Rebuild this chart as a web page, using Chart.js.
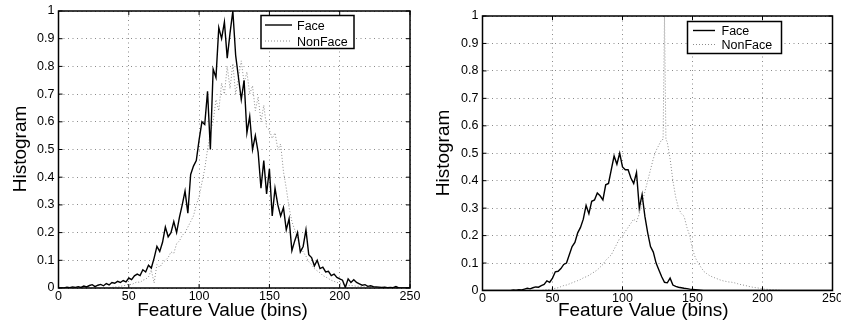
<!DOCTYPE html>
<html>
<head>
<meta charset="utf-8">
<script src="https://cdn.jsdelivr.net/npm/chart.js@4/dist/chart.umd.min.js"></script>
<style>
  html, body { margin: 0; padding: 0; background: #fff; }
  #wrap { position: relative; width: 841px; height: 324px; }
  canvas { position: absolute; top: 0; }
</style>
</head>
<body>
<div id="wrap">
  <canvas id="left" width="420" height="324" style="left:0"></canvas>
  <canvas id="right" width="421" height="324" style="left:420px"></canvas>
</div>
<script>
/* ---------- data ---------- */
const bins = [
  0, 2, 4, 6, 8, 10, 12, 14, 16, 18,
  20, 22, 24, 26, 28, 30, 32, 34, 36, 38,
  40, 42, 44, 46, 48, 50, 52, 54, 56, 58,
  60, 62, 64, 66, 68, 70, 72, 74, 76, 78,
  80, 82, 84, 86, 88, 90, 92, 94, 96, 98,
  100, 102, 104, 106, 108, 110, 112, 114, 116, 118,
  120, 122, 124, 126, 128, 130, 132, 134, 136, 138,
  140, 142, 144, 146, 148, 150, 152, 154, 156, 158,
  160, 162, 164, 166, 168, 170, 172, 174, 176, 178,
  180, 182, 184, 186, 188, 190, 192, 194, 196, 198,
  200, 202, 204, 206, 208, 210, 212, 214, 216, 218,
  220, 222, 224, 226, 228, 230, 232, 234, 236, 238,
  240, 242, 244, 246, 248, 250
];

// right NonFace has a one-bin spike at 130
const binsSpike = [
  0, 2, 4, 6, 8, 10, 12, 14, 16, 18,
  20, 22, 24, 26, 28, 30, 32, 34, 36, 38,
  40, 42, 44, 46, 48, 50, 52, 54, 56, 58,
  60, 62, 64, 66, 68, 70, 72, 74, 76, 78,
  80, 82, 84, 86, 88, 90, 92, 94, 96, 98,
  100, 102, 104, 106, 108, 110, 112, 114, 116, 118,
  120, 122, 124, 126, 128, 129, 130, 131, 132, 134, 136, 138,
  140, 142, 144, 146, 148, 150, 152, 154, 156, 158,
  160, 162, 164, 166, 168, 170, 172, 174, 176, 178,
  180, 182, 184, 186, 188, 190, 192, 194, 196, 198,
  200, 202, 204, 206, 208, 210, 212, 214, 216, 218,
  220, 222, 224, 226, 228, 230, 232, 234, 236, 238,
  240, 242, 244, 246, 248, 250
];

const leftFace = [
  0, 0, 0, 0.003, 0.001, 0.004, 0.002, 0.005, 0.002, 0.007,
  0.004, 0.009, 0.012, 0.005, 0.01, 0.013, 0.008, 0.016, 0.011, 0.02,
  0.017, 0.024, 0.02, 0.027, 0.022, 0.036, 0.03, 0.044, 0.05, 0.045,
  0.066, 0.058, 0.082, 0.072, 0.108, 0.15, 0.132, 0.165, 0.22, 0.185,
  0.2, 0.24, 0.2, 0.255, 0.3, 0.35, 0.27, 0.41, 0.44, 0.46,
  0.535, 0.6, 0.59, 0.71, 0.5, 0.79, 0.76, 0.94, 0.9, 0.96,
  0.83, 0.92, 1.0, 0.84, 0.76, 0.68, 0.75, 0.56, 0.62, 0.5,
  0.55, 0.49, 0.36, 0.46, 0.34, 0.43, 0.26, 0.36, 0.3, 0.26,
  0.29, 0.21, 0.25, 0.135, 0.17, 0.2, 0.13, 0.15, 0.21, 0.12,
  0.11, 0.08, 0.1, 0.07, 0.075, 0.058, 0.06, 0.045, 0.05, 0.038,
  0.033, 0.028, 0.002, 0.033, 0.02, 0.03, 0.02, 0.015, 0.01, 0.012,
  0.006, 0.008, 0.005, 0.004, 0.003, 0.002, 0.003, 0.001, 0.002, 0.001,
  0.005, 0, 0, 0, 0, 0
];

const leftNonFace = [
  0, 0, 0, 0, 0, 0, 0, 0, 0, 0,
  0, 0, 0, 0, 0, 0, 0, 0, 0, 0.002,
  0.004, 0.003, 0.006, 0.008, 0.01, 0.014, 0.012, 0.018, 0.022, 0.02,
  0.028, 0.032, 0.04, 0.065, 0.018, 0.085, 0.075, 0.09, 0.1, 0.11,
  0.13, 0.125, 0.16, 0.17, 0.19, 0.2, 0.22, 0.24, 0.26, 0.3,
  0.33, 0.38, 0.43, 0.5, 0.56, 0.6, 0.68, 0.64, 0.74, 0.7,
  0.8, 0.72, 0.81, 0.7, 0.76, 0.82, 0.74, 0.78, 0.7, 0.73,
  0.64, 0.69, 0.6, 0.66, 0.58, 0.57, 0.54, 0.56, 0.5, 0.52,
  0.42, 0.36, 0.29, 0.24, 0.21, 0.18, 0.15, 0.13, 0.115, 0.095,
  0.085, 0.07, 0.062, 0.055, 0.045, 0.04, 0.034, 0.028, 0.024, 0.02,
  0.018, 0.015, 0.012, 0.01, 0.009, 0.008, 0.006, 0.006, 0.005, 0.004,
  0.004, 0.003, 0.003, 0.002, 0.002, 0.002, 0.003, 0.001, 0, 0,
  0, 0, 0, 0, 0, 0
];

const rightFace = [
  0, 0, 0, 0, 0, 0, 0, 0, 0, 0,
  0, 0.002, 0.001, 0.003, 0.002, 0.005, 0.008, 0.006, 0.01, 0.013,
  0.012, 0.018, 0.022, 0.035, 0.03, 0.045, 0.068, 0.07, 0.08, 0.095,
  0.1, 0.13, 0.16, 0.175, 0.21, 0.23, 0.26, 0.31, 0.28, 0.325,
  0.33, 0.355, 0.345, 0.33, 0.385, 0.39, 0.44, 0.49, 0.46, 0.5,
  0.45, 0.44, 0.44, 0.41, 0.39, 0.43, 0.3, 0.35, 0.27, 0.21,
  0.16, 0.14, 0.1, 0.075, 0.05, 0.03, 0.028, 0.045, 0.02, 0.015,
  0.012, 0.01, 0.008, 0.007, 0.005, 0.004, 0.003, 0.002, 0.001, 0,
  0, 0, 0, 0, 0, 0, 0, 0, 0, 0,
  0, 0, 0, 0, 0, 0, 0, 0, 0, 0,
  0, 0, 0, 0, 0, 0, 0, 0, 0, 0,
  0, 0, 0, 0, 0, 0, 0, 0, 0, 0,
  0, 0, 0, 0, 0, 0
];

const rightNonFace = [
  0, 0, 0, 0, 0, 0, 0, 0, 0, 0,
  0, 0, 0, 0, 0, 0, 0, 0, 0, 0,
  0, 0, 0.002, 0.003, 0.004, 0.006, 0.008, 0.01, 0.014, 0.018,
  0.02, 0.024, 0.028, 0.032, 0.036, 0.04, 0.046, 0.05, 0.055, 0.062,
  0.068, 0.075, 0.085, 0.095, 0.11, 0.12, 0.13, 0.15, 0.17, 0.19,
  0.2, 0.215, 0.23, 0.245, 0.26, 0.25, 0.28, 0.32, 0.36, 0.4,
  0.44, 0.48, 0.51, 0.53, 0.55, 0.55, 1, 0.55, 0.54, 0.48, 0.4, 0.34,
  0.3, 0.28, 0.27, 0.23, 0.2, 0.15, 0.12, 0.1, 0.085, 0.07,
  0.062, 0.055, 0.05, 0.046, 0.042, 0.038, 0.035, 0.033, 0.031, 0.03,
  0.028, 0.025, 0.022, 0.02, 0.018, 0.015, 0.013, 0.011, 0.01, 0.008,
  0.006, 0.005, 0.004, 0.003, 0.002, 0.002, 0.001, 0, 0, 0,
  0, 0, 0, 0, 0, 0, 0, 0, 0, 0,
  0, 0, 0, 0, 0, 0
];

const xTicks = [0, 50, 100, 150, 200, 250];
const yTicks = [0, 0.1, 0.2, 0.3, 0.4, 0.5, 0.6, 0.7, 0.8, 0.9, 1];
const seriesNames = ['Face', 'NonFace'];
const xTitle = 'Feature Value (bins)';
const yTitle = 'Histogram';

/* ---------- drawing ---------- */
const FONT = '"Liberation Sans", Arial, Helvetica, sans-serif';
Chart.defaults.font.family = FONT;

function zip(xs, ys) {
  return xs.map((x, i) => ({ x: x, y: ys[i] }));
}

// box, inward ticks, axis titles and legend, matlab style
const framePlugin = {
  id: 'frame',
  afterDraw(chart, args, o) {
    const ctx = chart.ctx, a = chart.chartArea;
    const sx = chart.scales.x, sy = chart.scales.y;
    ctx.save();

    ctx.strokeStyle = '#000';
    ctx.lineWidth = 1;
    ctx.beginPath();
    xTicks.forEach(v => {
      const px = sx.getPixelForValue(v);
      ctx.moveTo(px, a.bottom); ctx.lineTo(px, a.bottom - 4);
      ctx.moveTo(px, a.top); ctx.lineTo(px, a.top + 4);
    });
    yTicks.forEach(v => {
      const py = sy.getPixelForValue(v);
      ctx.moveTo(a.left, py); ctx.lineTo(a.left + 4, py);
      ctx.moveTo(a.right, py); ctx.lineTo(a.right - 4, py);
    });
    ctx.stroke();

    ctx.lineWidth = 1.5;
    ctx.strokeRect(a.left, a.top, a.right - a.left, a.bottom - a.top);

    // axis titles
    ctx.fillStyle = '#000';
    ctx.font = '19px ' + FONT;
    ctx.textAlign = 'center';
    ctx.textBaseline = 'alphabetic';
    ctx.fillText(xTitle, o.xTitle[0], o.xTitle[1]);
    ctx.save();
    ctx.translate(o.yTitle[0], o.yTitle[1]);
    ctx.rotate(-Math.PI / 2);
    ctx.fillText(yTitle, 0, 0);
    ctx.restore();

    // legend
    const L = o.legend;
    ctx.fillStyle = '#fff';
    ctx.fillRect(L.x, L.y, L.w, L.h);
    ctx.strokeStyle = '#000';
    ctx.lineWidth = 1.5;
    ctx.strokeRect(L.x, L.y, L.w, L.h);
    ctx.font = '12.5px ' + FONT;
    ctx.textAlign = 'left';
    chart.data.datasets.forEach((ds, i) => {
      const ly = L.rows[i];
      ctx.strokeStyle = ds.borderColor;
      ctx.lineWidth = ds.borderWidth;
      ctx.setLineDash(ds.borderDash || []);
      ctx.beginPath();
      ctx.moveTo(L.x1, ly);
      ctx.lineTo(L.x2, ly);
      ctx.stroke();
      ctx.setLineDash([]);
      ctx.fillStyle = '#000';
      ctx.fillText(ds.label, L.tx, ly + 4.5);
    });

    ctx.restore();
  }
};

function makeChart(id, faceX, face, nonFaceX, nonFace, L) {
  return new Chart(document.getElementById(id), {
    type: 'line',
    data: {
      datasets: [
        { label: seriesNames[0], data: zip(faceX, face), borderColor: '#000',
          borderWidth: 1.4, pointRadius: 0, tension: 0 },
        { label: seriesNames[1], data: zip(nonFaceX, nonFace), borderColor: '#8c8c8c',
          borderWidth: 1, borderDash: [1, 2], pointRadius: 0, tension: 0 }
      ]
    },
    options: {
      responsive: false,
      animation: false,
      devicePixelRatio: 1,
      layout: { padding: { left: 0, top: L.top, right: L.padRight, bottom: 0 } },
      plugins: {
        legend: { display: false },
        tooltip: { enabled: false },
        frame: L.frame
      },
      scales: {
        x: {
          type: 'linear', min: 0, max: 250,
          afterBuildTicks: s => { s.ticks = xTicks.map(v => ({ value: v })); },
          afterFit: s => { s.height = L.xHeight; s.paddingLeft = 0; s.paddingRight = 0; },
          ticks: { padding: 1, color: '#000', font: { size: 12.5 }, maxRotation: 0,
                   autoSkip: false, callback: v => String(v) },
          grid: { color: '#8a8a8a', drawTicks: false },
          border: { display: false, dash: [1, 3.5] }
        },
        y: {
          type: 'linear', min: 0, max: 1,
          afterBuildTicks: s => { s.ticks = yTicks.map(v => ({ value: v })); },
          afterFit: s => { s.width = L.yWidth; s.paddingTop = 0; s.paddingBottom = 0; },
          ticks: { padding: 4, color: '#000', font: { size: 12.5 }, autoSkip: false,
                   callback: v => String(v) },
          grid: { color: '#8a8a8a', drawTicks: false },
          border: { display: false, dash: [1, 3.5] }
        }
      }
    },
    plugins: [framePlugin]
  });
}

makeChart('left', bins, leftFace, bins, leftNonFace, {
  top: 11, padRight: 10, xHeight: 36, yWidth: 58.5,
  frame: {
    xTitle: [222.5, 316], yTitle: [26, 149],
    legend: { x: 261, y: 15.5, w: 93, h: 33, x1: 265, x2: 292, tx: 297, rows: [25, 41] }
  }
});

makeChart('right', bins, rightFace, binsSpike, rightNonFace, {
  top: 16, padRight: 8.5, xHeight: 33.5, yWidth: 62.5,
  frame: {
    xTitle: [223.3, 316], yTitle: [29, 153],
    legend: { x: 267.5, y: 21.5, w: 94, h: 32, x1: 273, x2: 295, tx: 301.5, rows: [30.5, 44.5] }
  }
});
</script>
</body>
</html>
